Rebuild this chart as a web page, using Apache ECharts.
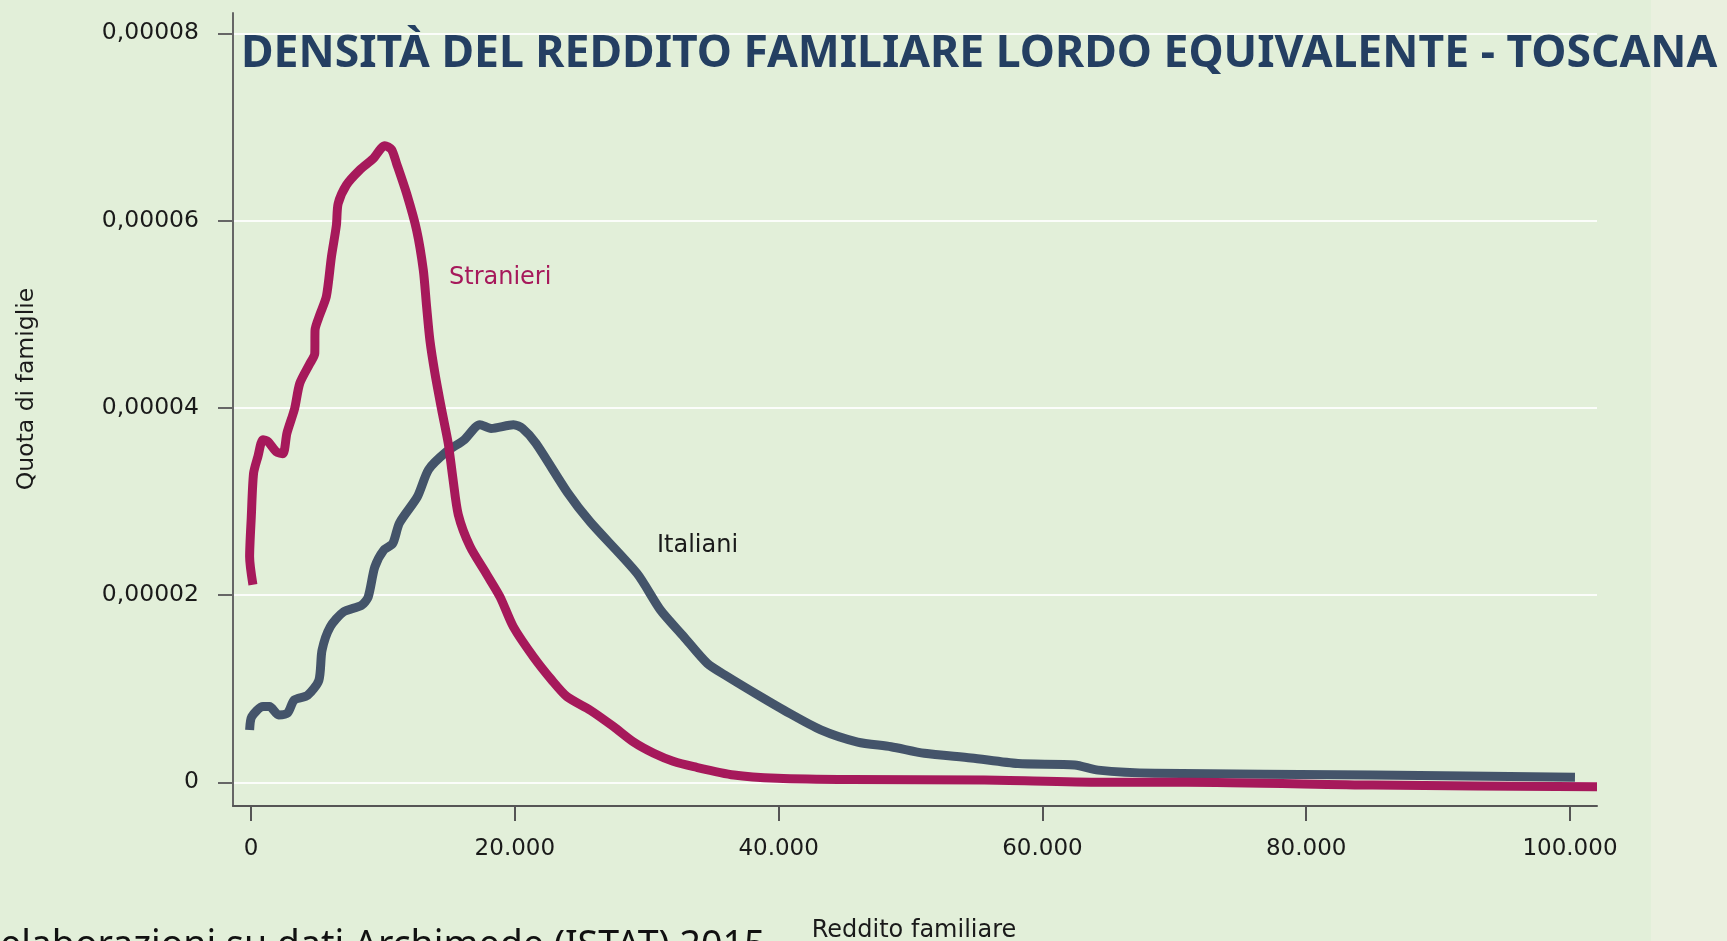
<!DOCTYPE html>
<html>
<head>
<meta charset="utf-8">
<title>Densità del reddito familiare lordo equivalente - Toscana</title>
<script src="https://cdn.jsdelivr.net/npm/echarts@6/dist/echarts.min.js"></script>
<style>
  html, body { margin: 0; padding: 0; background: #e2efd9; }
  #chart { width: 1727px; height: 941px; }
</style>
</head>
<body>
<div id="chart"></div>
<script>
// valori: reddito familiare (euro) e densità
var stranieriReddito = [140, -110, 15, 190, 520, 900, 1280, 1915, 2415, 2720, 3300, 3690,
  4450, 4830, 4850, 5200, 5710, 6090, 6470, 6600, 7230, 8240, 9250, 10140, 10650, 11030,
  11790, 12550, 13060, 13310, 13560, 13940, 14450, 14950, 15300, 15710, 16600, 17870,
  18880, 19890, 21410, 22810, 23950, 25720, 27490, 29000, 30530, 32000, 33570, 36610,
  39900, 45480, 55610, 64490, 70960, 85060, 102050];
var stranieriDensita = [2.11e-5, 2.41e-5, 2.83e-5, 3.30e-5, 3.48e-5, 3.66e-5, 3.64e-5,
  3.53e-5, 3.51e-5, 3.73e-5, 3.99e-5, 4.26e-5, 4.47e-5, 4.58e-5, 4.83e-5, 4.99e-5, 5.19e-5,
  5.61e-5, 5.95e-5, 6.18e-5, 6.38e-5, 6.54e-5, 6.66e-5, 6.80e-5, 6.76e-5, 6.61e-5,
  6.29e-5, 5.90e-5, 5.47e-5, 5.08e-5, 4.72e-5, 4.37e-5, 3.98e-5, 3.62e-5, 3.25e-5, 2.86e-5,
  2.52e-5, 2.22e-5, 1.98e-5, 1.66e-5, 1.34e-5, 1.09e-5, 0.915e-5, 0.77e-5, 0.594e-5,
  0.43e-5, 0.31e-5, 0.225e-5, 0.167e-5, 0.078e-5, 0.043e-5, 0.029e-5, 0.024e-5, 0, 0,
  -0.029e-5, -0.047e-5];

var italianiReddito = [-110, 50, 900, 1400, 2090, 2770, 3280, 4290, 5140, 5380, 6000, 7010,
  8370, 8880, 9380, 10060, 10740, 11250, 12610, 13460, 14810, 16170, 17350, 18200, 19900,
  20580, 21600, 23970, 25720, 29270, 31040, 32810, 34590, 36110, 38640, 40410, 43200,
  45990, 48520, 51050, 54600, 58140, 62450, 64230, 68500, 85060, 100380];
var italianiDensita = [0.56e-5, 0.70e-5, 0.81e-5, 0.81e-5, 0.72e-5, 0.74e-5, 0.88e-5,
  0.93e-5, 1.09e-5, 1.41e-5, 1.66e-5, 1.82e-5, 1.89e-5, 1.98e-5, 2.30e-5, 2.48e-5, 2.55e-5,
  2.77e-5, 3.05e-5, 3.34e-5, 3.53e-5, 3.66e-5, 3.82e-5, 3.78e-5, 3.82e-5, 3.78e-5, 3.62e-5,
  3.10e-5, 2.78e-5, 2.23e-5, 1.84e-5, 1.555e-5, 1.27e-5, 1.13e-5, 0.915e-5, 0.77e-5,
  0.56e-5, 0.43e-5, 0.38e-5, 0.31e-5, 0.26e-5, 0.20e-5, 0.185e-5, 0.13e-5, 0.096e-5,
  0.078e-5, 0.053e-5];

var redditoTicks = [0, 20000, 40000, 60000, 80000, 100000];
var densitaTicks = [0, 0.00002, 0.00004, 0.00006, 0.00008];

function pairs(xs, ys) {
  return xs.map(function (x, i) { return [x, ys[i]]; });
}

var labelFont = "'DejaVu Sans', sans-serif";
var chart = echarts.init(document.getElementById("chart"));

var option = {
  animation: false,
  backgroundColor: "#e2efd9",
  title: {
    text: "DENSITÀ DEL REDDITO FAMILIARE LORDO EQUIVALENTE - TOSCANA",
    left: 241,
    top: 32,
    padding: 0,
    textStyle: {
      fontFamily: "'Noto Sans', sans-serif",
      fontWeight: "bold",
      fontSize: 44.5,
      color: "#243f62"
    }
  },
  grid: { left: 233, right: 130, top: 13, bottom: 135 },
  xAxis: {
    type: "value",
    min: -1370,
    max: 102050,
    axisLine: { show: true, onZero: false, lineStyle: { color: "#555", width: 2 } },
    axisTick: { show: true, length: 15, customValues: redditoTicks, lineStyle: { color: "#555", width: 2 } },
    axisLabel: {
      customValues: redditoTicks,
      margin: 32,
      fontFamily: labelFont,
      fontSize: 23,
      color: "#1a1a1a",
      formatter: function (v) {
        return String(v).replace(/\B(?=(\d{3})+(?!\d))/g, ".");
      }
    },
    splitLine: { show: false }
  },
  yAxis: {
    type: "value",
    min: -0.253e-5,
    max: 8.217e-5,
    axisLine: { show: true, onZero: false, lineStyle: { color: "#666", width: 2 } },
    axisTick: { show: true, length: 15, customValues: densitaTicks, lineStyle: { color: "#666", width: 2 } },
    axisLabel: {
      customValues: densitaTicks,
      margin: 34,
      fontFamily: labelFont,
      fontSize: 23.5,
      color: "#1a1a1a",
      formatter: function (v) {
        return v === 0 ? "0" : v.toFixed(5).replace(".", ",");
      }
    },
    splitLine: { show: true, lineStyle: { color: "rgba(255,255,255,0.85)", width: 2 } }
  },
  graphic: [
    { type: "rect", z: -10, shape: { x: 1651, y: 0, width: 76, height: 941 }, style: { fill: "#eaf0df" } },
    {
      type: "text", x: 27, y: 389, rotation: Math.PI / 2,
      style: { text: "Quota di famiglie", font: "23.5px 'DejaVu Sans', sans-serif", fill: "#1a1a1a", align: "center", verticalAlign: "middle" }
    },
    {
      type: "text", x: 914, y: 919,
      style: { text: "Reddito familiare", font: "24px 'DejaVu Sans', sans-serif", fill: "#1a1a1a", align: "center", verticalAlign: "top" }
    },
    {
      type: "text", x: 0, y: 927,
      style: { text: "elaborazioni su dati Archimede (ISTAT) 2015", font: "37.5px 'Noto Sans', sans-serif", fill: "#111", align: "left", verticalAlign: "top" }
    },
    {
      type: "text", x: 449, y: 278,
      style: { text: "Stranieri", font: "24px 'DejaVu Sans', sans-serif", fill: "#a6195b", align: "left", verticalAlign: "middle" }
    },
    {
      type: "text", x: 657, y: 546,
      style: { text: "Italiani", font: "24px 'DejaVu Sans', sans-serif", fill: "#1a1a1a", align: "left", verticalAlign: "middle" }
    }
  ],
  series: [
    {
      name: "Italiani",
      type: "line",
      data: pairs(italianiReddito, italianiDensita),
      showSymbol: false,
      smooth: 0.25,
      lineStyle: { width: 9, color: "#44546a", cap: "butt", join: "round" },
      z: 2
    },
    {
      name: "Stranieri",
      type: "line",
      data: pairs(stranieriReddito, stranieriDensita),
      showSymbol: false,
      smooth: 0.25,
      lineStyle: { width: 9, color: "#a6195b", cap: "butt", join: "round" },
      z: 3
    }
  ]
};

chart.setOption(option);
</script>
</body>
</html>
